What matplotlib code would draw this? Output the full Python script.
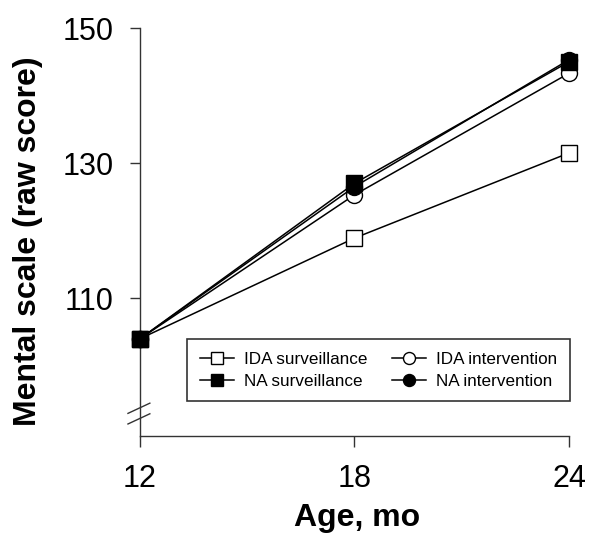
import matplotlib
matplotlib.use('Agg')
import matplotlib.pyplot as plt

plt.rcParams['font.family'] = ['Liberation Sans', 'DejaVu Sans']

ages = [12, 18, 24]
ida_surveillance = [104.0, 118.9, 131.5]
ida_intervention = [104.0, 125.3, 143.3]
na_surveillance = [104.0, 127.0, 145.0]
na_intervention = [104.0, 126.5, 145.3]

series_labels = ['IDA surveillance', 'IDA intervention', 'NA surveillance', 'NA intervention']
y_ticks = [110, 130, 150]

fig = plt.figure(figsize=(6, 5.44), dpi=100)
ax = fig.add_axes([0.2333, 0.1985, 0.7150, 0.7500])

ms = 11.5
lw = 1.1
l1, = ax.plot(ages, ida_surveillance, color='black', lw=lw, marker='s', ms=ms,
              mfc='white', mec='black', mew=1.0, label=series_labels[0], clip_on=False, zorder=3)
l2, = ax.plot(ages, ida_intervention, color='black', lw=lw, marker='o', ms=ms,
              mfc='white', mec='black', mew=1.0, label=series_labels[1], clip_on=False, zorder=4)
l3, = ax.plot(ages, na_surveillance, color='black', lw=lw, marker='s', ms=ms,
              mfc='black', mec='black', mew=1.0, label=series_labels[2], clip_on=False, zorder=5)
l4, = ax.plot(ages, na_intervention, color='black', lw=lw, marker='o', ms=ms,
              mfc='black', mec='black', mew=1.0, label=series_labels[3], clip_on=False, zorder=6)

ax.set_xlim(12, 24)
ax.set_ylim(89.6, 150)
ax.set_xticks(ages)
ax.set_yticks(y_ticks)
ax.tick_params(axis='both', direction='out', labelsize=22, width=1.0, color='#333333')
ax.tick_params(axis='y', length=7, pad=12)
ax.tick_params(axis='x', length=8, pad=12)

for s in ['top', 'right']:
    ax.spines[s].set_visible(False)
for s in ['left', 'bottom']:
    ax.spines[s].set_linewidth(1.0)
    ax.spines[s].set_color('#333333')

ax.set_xlabel('Age, mo', fontsize=23, fontweight='bold')
ax.set_ylabel('Mental scale (raw score)', fontsize=23, fontweight='bold')
ax.xaxis.set_label_coords(0.507, -0.165)
ax.yaxis.set_label_coords(-0.226, 0.478)

# axis break marks on the y axis
for yb in [0.068, 0.042]:
    ax.plot([-0.028, 0.023], [yb - 0.0125, yb + 0.0125], transform=ax.transAxes,
            color='#333333', lw=1.0, clip_on=False)

leg = ax.legend([l1, l3, l2, l4],
                [series_labels[0], series_labels[2], series_labels[1], series_labels[3]],
                ncol=2, loc='upper left', bbox_to_anchor=(0.110, 0.238),
                fontsize=12.3, frameon=True, fancybox=False, edgecolor='black',
                markerscale=0.75, handlelength=2.0, handletextpad=0.6,
                columnspacing=1.4, labelspacing=0.4, borderpad=0.75, borderaxespad=0)
leg.get_frame().set_linewidth(1.2)

fig.savefig('out.png', dpi=100)
